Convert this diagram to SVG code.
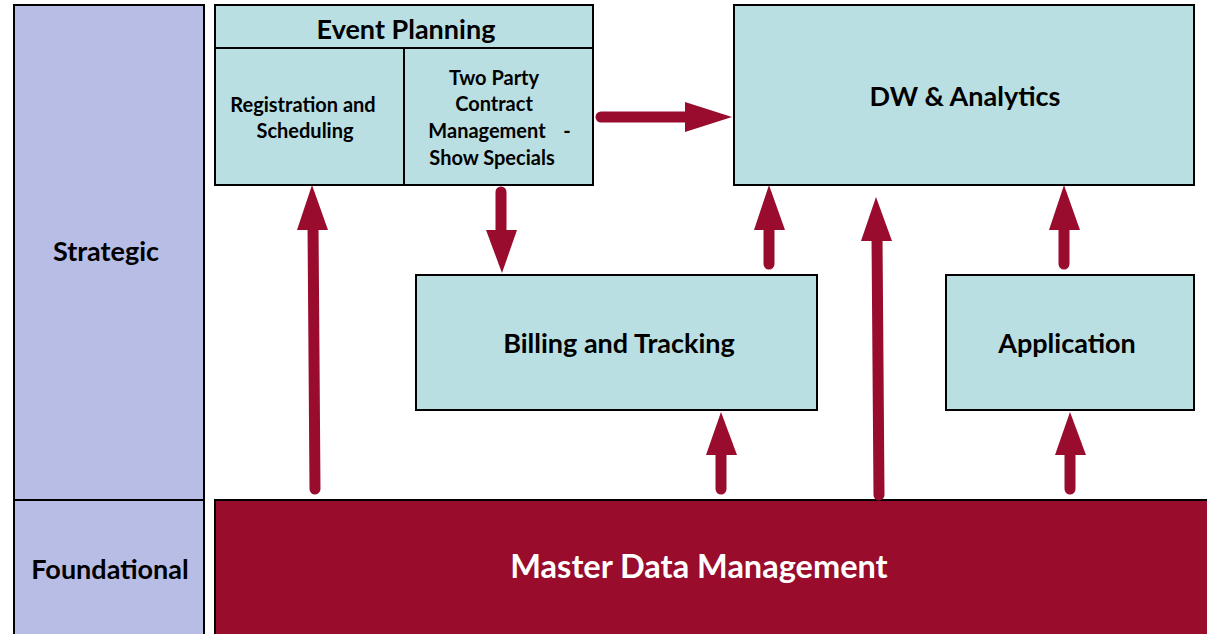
<svg xmlns="http://www.w3.org/2000/svg" width="1207" height="634" viewBox="0 0 1207 634">
<style>
.lane{fill:#b8bde6;stroke:#000;stroke-width:2}
.box{fill:#badfe2;stroke:#000;stroke-width:2}
.t{font-family:Lato,"Open Sans",sans-serif;font-weight:bold;fill:#000;text-anchor:middle}
.big{font-size:27px}
.sm{font-size:20px}
.shaft{stroke:#990c2e;stroke-width:11;stroke-linecap:round;fill:none}
.head{fill:#990c2e}
</style>
<rect width="1207" height="634" fill="#fff"/>
<g id="strategic">
<rect class="lane" x="14" y="5" width="190" height="495"/>
<text class="t big" x="106" y="261">Strategic</text>
</g>
<g id="foundational">
<rect class="lane" x="14" y="500" width="190" height="140"/>
<text class="t big" x="110" y="579">Foundational</text>
</g>
<g id="event-planning">
<rect class="box" x="215" y="5" width="378" height="180"/>
<line x1="215" y1="48" x2="593" y2="48" stroke="#000" stroke-width="2"/>
<line x1="404" y1="48" x2="404" y2="185" stroke="#000" stroke-width="2"/>
<text class="t big" x="406" y="39">Event Planning</text>
<text class="t sm" x="303" y="112">Registration and</text>
<text class="t sm" x="305" y="138">Scheduling</text>
<text class="t sm" x="494" y="85">Two Party</text>
<text class="t sm" x="494" y="111">Contract</text>
<text class="t sm" x="487" y="138">Management</text>
<text class="t sm" x="567" y="138">-</text>
<text class="t sm" x="492" y="165">Show Specials</text>
</g>
<g id="dw-analytics">
<rect class="box" x="734" y="5" width="460" height="180"/>
<text class="t big" x="965" y="106">DW &amp; Analytics</text>
</g>
<g id="billing">
<rect class="box" x="416" y="275" width="401" height="135"/>
<text class="t big" x="619" y="353">Billing and Tracking</text>
</g>
<g id="application">
<rect class="box" x="946" y="275" width="248" height="135"/>
<text class="t big" x="1067" y="353">Application</text>
</g>
<g id="mdm">
<rect x="215" y="500" width="995" height="140" fill="#990c2c" stroke="#000" stroke-width="2"/>
<text class="t" x="699" y="578" style="font-size:32.5px;fill:#fff">Master Data Management</text>
</g>
<g id="connectors">
<line class="shaft" x1="601" y1="117" x2="690" y2="117"/>
<polygon class="head" points="685,102 732,117 685,132"/>
<line class="shaft" x1="315" y1="489" x2="313" y2="225"/>
<polygon class="head" points="297,230 312,185 328,230"/>
<line class="shaft" x1="501" y1="192" x2="501" y2="235"/>
<polygon class="head" points="486,230 517,230 502,273"/>
<line class="shaft" x1="769" y1="264" x2="769" y2="225"/>
<polygon class="head" points="754,230 769,185 785,230"/>
<line class="shaft" x1="879" y1="495" x2="877" y2="236"/>
<polygon class="head" points="861,241 876,197 892,241"/>
<line class="shaft" x1="1064" y1="264" x2="1064" y2="225"/>
<polygon class="head" points="1049,230 1064,185 1080,230"/>
<line class="shaft" x1="1070" y1="489" x2="1070" y2="450"/>
<polygon class="head" points="1055,455 1070,412 1086,455"/>
<line class="shaft" x1="721" y1="489" x2="721" y2="450"/>
<polygon class="head" points="706,455 721,412 737,455"/>
</g>
</svg>
